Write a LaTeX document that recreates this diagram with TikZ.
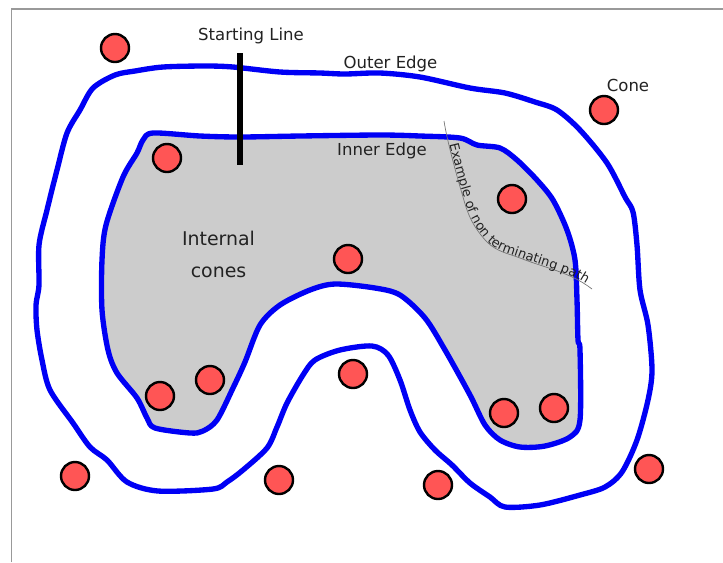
\documentclass[tikz,border=0pt]{standalone}
\usepackage{fontspec}
\setmainfont{DejaVu Sans}
\usetikzlibrary{decorations.text}
\definecolor{conered}{HTML}{FF5555}
\definecolor{areagray}{HTML}{CCCCCC}
\definecolor{edgeblue}{HTML}{0000F5}
\definecolor{inktext}{HTML}{222222}
\tikzset{
  cone/.style={circle,draw=black,line width=1.8pt,fill=conered,minimum size=21pt,inner sep=0pt},
  edgeline/.style={draw=edgeblue,line width=4pt,line join=round},
  lbl/.style={text=inktext,font=\fontsize{12.4pt}{14pt}\selectfont,inner sep=0pt},
  biglbl/.style={text=inktext,font=\fontsize{14.2pt}{16pt}\selectfont,inner sep=0pt},
}
\begin{document}
\begin{tikzpicture}[x=0.75pt,y=-0.75pt]
\useasboundingbox (0,0) rectangle (723,562);
\fill[white] (0,0) rectangle (723,562);
\draw[gray!80,line width=0.8pt] (11.5,562) -- (11.5,9) -- (723,9);
% inner edge
\path[edgeline,fill=areagray] plot[smooth cycle,tension=0.5] coordinates {
(143,140)(153,133)(200,136)(240,137)(300,136)(380,135)(420,136)(460,138)(477,145)(500,148)(517,160)(537,180)(553,200)(567,230)(575,260)(577,300)(578,340)(580,350)(580,420)(570,437)(545,446)(520,447)(500,440)(485,425)(470,395)(445,350)(425,318)(400,295)(375,288)(335,284)(310,290)(280,305)(260,325)(245,362)(233,388)(217,420)(203,431)(190,433)(155,428)(147,418)(137,398)(117,373)(108,350)(102,310)(102,260)(106,225)(123,177)(137,153)};
% outer edge
\path[edgeline] plot[smooth cycle,tension=0.5] coordinates {
(115,75)(135,71)(163,67)(205,66)(233,67)(280,72)(320,73)(345,74)(380,73)(420,77)(470,88)(505,93)(535,102)(557,110)(580,130)(607,163)(625,197)(633,212)(637,245)(640,290)(648,325)(652,370)(648,400)(637,440)(622,472)(605,487)(580,495)(540,505)(505,507)(490,497)(470,483)(452,465)(435,450)(420,432)(410,410)(400,380)(388,355)(372,346)(340,350)(315,360)(303,375)(287,403)(277,427)(267,448)(243,470)(227,482)(213,489)(158,491)(127,482)(107,460)(90,447)(73,423)(50,390)(42,360)(37,330)(36,305)(39,285)(39,245)(47,210)(57,170)(67,133)(80,110)(93,88)};
% starting line
\coordinate (startTop) at (240,53);
\coordinate (startEnd) at (240,165);
\draw[black,line width=3.8pt] (startTop) -- (startEnd);
% cones
\node[cone] (c1) at (115,48) {};
\node[cone] (c2) at (604,110) {};
\node[cone] (c3) at (167,158) {};
\node[cone] (c4) at (512,199) {};
\node[cone] (c5) at (348,259) {};
\node[cone] (c6) at (210,380) {};
\node[cone] (c7) at (160,396) {};
\node[cone] (c8) at (353,374) {};
\node[cone] (c9) at (504,413) {};
\node[cone] (c10) at (554,408) {};
\node[cone] (c11) at (75,476) {};
\node[cone] (c12) at (279,480) {};
\node[cone] (c13) at (438,485) {};
\node[cone] (c14) at (649,469) {};
% labels
\node[lbl] (startlabel) at (251,35.5) {Starting Line};
\node[lbl] (outerlabel) at (390.5,64) {Outer Edge};
\node[lbl] (conelabel) at (628,85) {Cone};
\node[lbl] (innerlabel) at (382,151) {Inner Edge};
\node[biglbl] (internal1) at (218.5,238) {Internal};
\node[biglbl] (internal2) at (218.5,272) {cones};
% example path
\coordinate (pathStart) at (444,121);
\coordinate (pathEnd) at (592,289);
\draw[gray!90!black,line width=0.5pt] (pathStart) .. controls (447,140) and (455,170) .. (463,197) .. controls (467,212) and (472,226) .. (487,242) .. controls (497,252) and (510,254) .. (520,258) .. controls (545,268) and (570,272) .. (pathEnd);
\path[decorate,decoration={text along path,raise=0.5pt,text align={left indent=18pt},
  text={|\fontsize{9.7pt}{12pt}\selectfont\color{inktext}|Example of non terminating path}}]
  (pathStart) .. controls (447,140) and (455,170) .. (463,197) .. controls (467,212) and (472,226) .. (487,242) .. controls (497,252) and (510,254) .. (520,258) .. controls (545,268) and (570,272) .. (pathEnd);
\end{tikzpicture}
\end{document}
